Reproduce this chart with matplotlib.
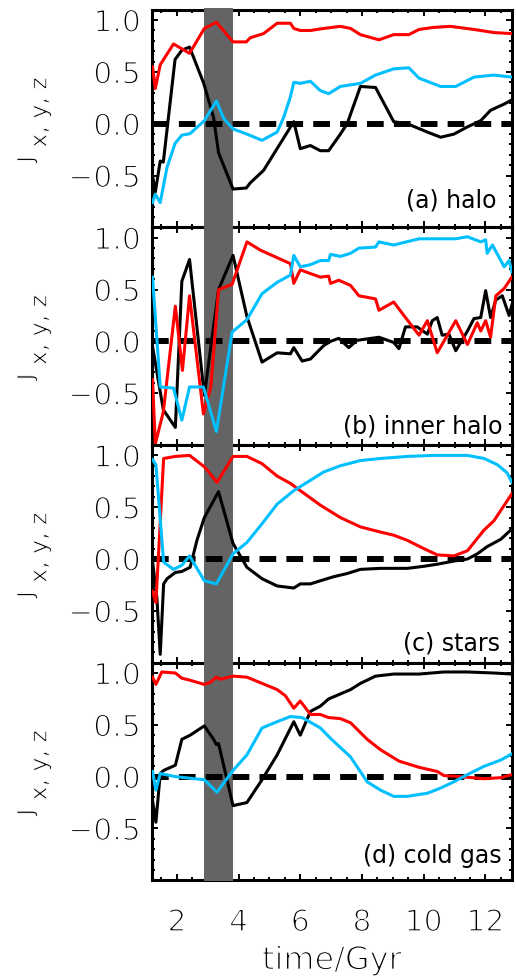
import numpy as np
import matplotlib.pyplot as plt
from matplotlib import patheffects as pe
from matplotlib.ticker import MultipleLocator

# (a) halo
t_red_a = [1.21, 1.30, 1.46, 1.89, 2.41, 2.89, 3.28, 3.82, 4.25, 4.38, 4.81, 5.25, 5.68, 5.79, 6.00,
           6.33, 6.76, 7.30, 7.63, 7.95, 8.55, 9.03, 9.52, 9.85, 10.33, 10.87, 11.63, 12.28, 12.86]
red_a = [0.55, 0.34, 0.57, 0.77, 0.68, 0.92, 0.98, 0.79, 0.79, 0.83, 0.87, 0.97, 0.97, 0.92, 0.90,
         0.90, 0.92, 0.94, 0.92, 0.86, 0.81, 0.86, 0.86, 0.91, 0.93, 0.94, 0.91, 0.88, 0.87]
t_black_a = [1.21, 1.30, 1.46, 1.56, 1.94, 2.16, 2.41, 2.87, 3.19, 3.35, 3.82, 4.25, 4.38, 4.81, 5.79,
             6.00, 6.33, 6.65, 6.92, 7.30, 7.52, 7.95, 8.44, 9.03, 9.47, 10.12, 10.55, 10.98, 11.42,
             11.85, 12.17, 12.61, 12.86]
black_a = [-0.50, -0.66, -0.36, -0.37, 0.62, 0.71, 0.74, 0.39, 0.06, -0.28, -0.63, -0.62, -0.57, -0.45,
           0.02, -0.24, -0.21, -0.26, -0.26, -0.10, 0.00, 0.36, 0.35, 0.02, 0.00, -0.08, -0.13, -0.10,
           -0.03, 0.03, 0.13, 0.19, 0.23]
t_cyan_a = [1.21, 1.30, 1.46, 1.68, 1.94, 2.16, 2.43, 2.89, 3.28, 3.52, 3.82, 4.27, 4.76, 5.25, 5.46,
            5.68, 5.79, 6.00, 6.33, 6.65, 6.92, 7.30, 7.95, 8.44, 9.03, 9.52, 9.85, 10.55, 11.04, 11.63,
            12.28, 12.86]
cyan_a = [-0.76, -0.68, -0.76, -0.42, -0.19, -0.11, -0.095, 0.03, 0.22, 0.05, -0.05, -0.10, -0.16, -0.08,
          0.06, 0.26, 0.40, 0.39, 0.41, 0.32, 0.29, 0.36, 0.39, 0.47, 0.53, 0.54, 0.44, 0.36, 0.36, 0.45,
          0.47, 0.45]

# (b) inner halo
t_red_b = [1.21, 1.30, 1.56, 1.95, 2.18, 2.41, 2.86, 3.10, 3.35, 3.79, 4.27, 4.71, 5.68, 5.79, 6.00,
           6.65, 6.92, 6.98, 7.25, 7.63, 7.90, 8.44, 8.55, 9.03, 9.36, 9.85, 10.12, 10.44, 11.04, 11.42,
           11.74, 11.85, 12.01, 12.17, 12.34, 12.61, 12.86]
red_b = [-0.37, -0.99, -0.68, 0.34, -0.28, 0.44, -0.70, -0.44, 0.50, 0.55, 0.96, 0.88, 0.75, 0.56, 0.69,
         0.62, 0.63, 0.56, 0.59, 0.54, 0.44, 0.41, 0.30, 0.38, 0.25, 0.06, 0.20, -0.11, 0.20, -0.03,
         0.18, 0.10, 0.20, 0.04, 0.44, 0.51, 0.62]
t_black_b = [1.21, 1.56, 1.95, 2.16, 2.41, 2.89, 3.35, 3.82, 4.27, 4.76, 5.25, 5.68, 5.79, 6.06, 6.33,
             6.76, 6.98, 7.25, 7.57, 7.84, 8.55, 9.03, 9.20, 9.41, 9.79, 10.12, 10.28, 10.44, 10.60,
             10.82, 11.04, 11.42, 11.63, 11.85, 12.01, 12.17, 12.34, 12.55, 12.77, 12.86]
black_b = [-0.05, -0.66, -0.83, 0.58, 0.79, -0.52, 0.50, 0.83, 0.24, -0.20, -0.11, -0.12, -0.06, -0.19,
           -0.17, -0.04, 0.00, 0.03, -0.06, 0.01, 0.04, -0.01, -0.07, 0.14, 0.14, 0.07, 0.20, 0.23, 0.06,
           0.07, -0.09, 0.10, 0.22, 0.23, 0.49, 0.23, 0.40, 0.44, 0.25, 0.35]
t_cyan_b = [1.21, 1.46, 1.89, 2.16, 2.41, 2.86, 3.28, 3.79, 4.27, 4.76, 5.25, 5.68, 5.79, 6.00, 6.33,
            6.65, 6.92, 6.98, 7.30, 7.63, 7.90, 8.44, 8.55, 9.03, 9.85, 10.44, 11.04, 11.42, 11.85, 12.01,
            12.06, 12.23, 12.61, 12.77, 12.86]
cyan_b = [0.62, -0.44, -0.45, -0.76, -0.44, -0.44, -0.87, 0.09, 0.21, 0.46, 0.57, 0.64, 0.83, 0.72, 0.74,
          0.78, 0.78, 0.84, 0.82, 0.85, 0.90, 0.91, 0.96, 0.93, 0.99, 0.99, 0.99, 1.01, 0.96, 0.98,
          0.85, 0.93, 0.72, 0.78, 0.67]

# (c) stars
t_red_c = [1.21, 1.32, 1.57, 1.95, 2.41, 2.89, 3.30, 3.82, 4.27, 4.76, 5.25, 5.68, 6.00, 6.65, 7.30,
           7.95, 8.60, 9.03, 9.47, 10.01, 10.44, 10.98, 11.42, 11.96, 12.28, 12.86]
red_c = [-0.31, -0.42, 0.97, 0.99, 1.00, 0.89, 0.74, 0.99, 0.99, 0.92, 0.80, 0.73, 0.66, 0.52, 0.40,
         0.31, 0.26, 0.23, 0.18, 0.10, 0.04, 0.03, 0.08, 0.28, 0.37, 0.63]
t_black_c = [1.21, 1.35, 1.46, 1.57, 1.68, 1.95, 2.16, 2.43, 2.65, 2.89, 3.35, 3.82, 4.27, 4.76, 5.25,
             5.79, 6.00, 6.33, 6.65, 7.09, 7.52, 7.95, 8.60, 9.03, 9.47, 10.01, 10.44, 10.98, 11.42,
             11.74, 12.06, 12.50, 12.86]
black_c = [-0.02, -0.37, -0.92, -0.24, -0.19, -0.13, -0.12, -0.08, 0.18, 0.40, 0.65, 0.15, -0.08, -0.19,
           -0.26, -0.28, -0.24, -0.24, -0.21, -0.17, -0.14, -0.10, -0.09, -0.09, -0.09, -0.07, -0.05,
           -0.02, 0.00, 0.05, 0.12, 0.19, 0.29]
t_cyan_c = [1.21, 1.32, 1.57, 1.89, 2.16, 2.41, 2.89, 3.28, 3.82, 4.27, 4.76, 5.25, 5.79, 6.33, 6.76,
            7.30, 7.95, 8.60, 9.47, 10.33, 11.42, 11.96, 12.39, 12.71, 12.86]
cyan_c = [0.96, 0.91, -0.03, -0.10, -0.06, 0.03, -0.21, -0.24, 0.05, 0.16, 0.34, 0.53, 0.66, 0.76, 0.84,
          0.90, 0.95, 0.97, 0.99, 1.00, 1.00, 0.97, 0.91, 0.83, 0.74]

# (d) cold gas
t_red_d = [1.21, 1.32, 1.51, 1.95, 2.16, 2.43, 2.89, 3.08, 3.28, 3.41, 3.82, 4.27, 4.76, 5.25, 5.52,
           5.79, 6.00, 6.33, 6.65, 6.92, 7.30, 7.63, 8.17, 8.60, 9.20, 9.85, 10.44, 10.66, 11.20, 11.96,
           12.50, 12.86]
red_d = [0.96, 0.89, 1.01, 1.00, 0.95, 0.93, 0.89, 0.91, 0.96, 0.94, 0.97, 0.96, 0.90, 0.84, 0.78,
         0.66, 0.73, 0.60, 0.60, 0.57, 0.56, 0.52, 0.36, 0.26, 0.15, 0.09, 0.05, 0.01, 0.00, -0.02,
         -0.01, 0.02]
t_black_d = [1.21, 1.32, 1.46, 1.57, 1.95, 2.16, 2.43, 2.89, 3.19, 3.28, 3.35, 3.82, 4.27, 4.76, 5.25,
             5.79, 6.00, 6.33, 6.65, 6.92, 7.63, 7.95, 8.44, 9.03, 9.85, 10.66, 11.42, 12.28, 12.86]
black_d = [-0.23, -0.44, 0.03, 0.06, 0.11, 0.36, 0.40, 0.49, 0.36, 0.31, 0.32, -0.28, -0.25, -0.03, 0.21,
           0.53, 0.40, 0.63, 0.68, 0.75, 0.84, 0.90, 0.97, 0.99, 0.99, 1.01, 1.01, 1.00, 0.99]
t_cyan_d = [1.21, 1.32, 1.46, 1.95, 2.89, 3.30, 3.82, 4.27, 4.76, 5.25, 5.68, 6.06, 6.65, 6.98, 7.63,
            8.17, 8.60, 9.03, 9.47, 10.12, 10.55, 10.98, 11.42, 11.96, 12.50, 12.86]
cyan_d = [0.05, -0.13, 0.03, 0.00, -0.03, -0.15, 0.06, 0.21, 0.47, 0.53, 0.58, 0.57, 0.47, 0.37, 0.19,
          -0.05, -0.13, -0.19, -0.19, -0.16, -0.11, -0.05, 0.02, 0.10, 0.16, 0.22]

panel_names = ['(a) halo', '(b) inner halo', '(c) stars', '(d) cold gas']
merger_start, merger_end = 2.89, 3.82

panels = [
    [(t_black_a, black_a), (t_red_a, red_a), (t_cyan_a, cyan_a)],
    [(t_black_b, black_b), (t_red_b, red_b), (t_cyan_b, cyan_b)],
    [(t_black_c, black_c), (t_red_c, red_c), (t_cyan_c, cyan_c)],
    [(t_black_d, black_d), (t_red_d, red_d), (t_cyan_d, cyan_d)],
]
colors = ['black', '#ff0000', '#00bfff']
name_pos = [(0.958, 0.092), (0.975, 0.051), (0.967, 0.055), (0.971, 0.080)]

plt.rcParams['font.family'] = 'DejaVu Sans'

# the original axis font is a thin one: eat away the glyph edges with a white stroke
thin = [pe.Stroke(linewidth=1.1, foreground='white')]
thin_small = [pe.Stroke(linewidth=0.7, foreground='white')]

fig, axes = plt.subplots(4, 1, sharex=True, figsize=(5.16, 9.77), dpi=100)
fig.subplots_adjust(left=0.295, right=0.992, top=0.990, bottom=0.099, hspace=0)

for i, ax in enumerate(axes):
    ax.axvspan(merger_start, merger_end, ymin=-0.005, ymax=1.008, color='#646464', lw=0,
               zorder=2.6, clip_on=False)
    ax.axhline(0, color='black', lw=4.3, dashes=(2.8, 1.7), zorder=3)
    for (t, v), c in zip(panels[i], colors):
        ax.plot(t, v, color=c, lw=2.2, zorder=4)

    ax.set_xlim(1.2, 12.86)
    ax.set_ylim(-1.0, 1.1)
    ax.set_yticks([-0.5, 0.0, 0.5, 1.0])
    ax.yaxis.set_minor_locator(MultipleLocator(0.1))
    ax.xaxis.set_major_locator(MultipleLocator(2))
    ax.xaxis.set_minor_locator(MultipleLocator(0.5))
    ax.tick_params(which='both', direction='in', top=True, right=True, labelsize=21.5)
    ax.tick_params(which='major', length=4.5, width=1.4)
    ax.tick_params(which='minor', length=2.3, width=1.4)
    ax.tick_params(axis='y', pad=8)
    ax.tick_params(axis='x', pad=20)
    for s in ax.spines.values():
        s.set_linewidth(2.2)

    ax.text(name_pos[i][0], name_pos[i][1], panel_names[i], transform=ax.transAxes,
            ha='right', va='baseline', fontsize=17, zorder=5)

    # J_{x,y,z} label, drawn as two pieces
    ax.annotate('J', xy=(0, 0.5), xycoords='axes fraction', xytext=(-85.7, -31.7),
                textcoords='offset points', rotation=90, rotation_mode='anchor',
                ha='left', va='baseline', fontsize=16, path_effects=thin_small)
    ax.annotate('x, y, z', xy=(0, 0.5), xycoords='axes fraction', xytext=(-76.0, -20.9),
                textcoords='offset points', rotation=90, rotation_mode='anchor',
                ha='left', va='baseline', fontsize=17, path_effects=thin_small)

axes[-1].set_xlabel('time/Gyr', fontsize=23, labelpad=6, path_effects=thin)

for ax in axes:
    for lbl in ax.get_xticklabels() + ax.get_yticklabels():
        lbl.set_path_effects(thin)

fig.savefig('out.png', dpi=100)
